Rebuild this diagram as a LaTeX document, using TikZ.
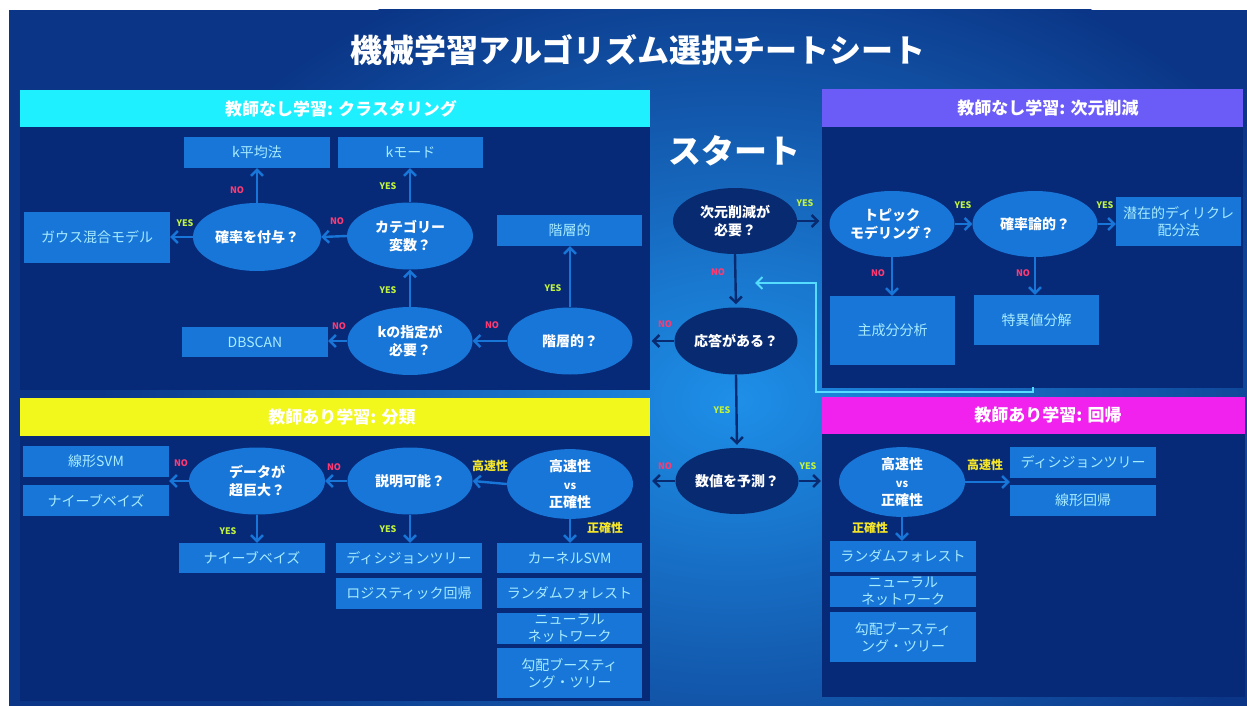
\documentclass[tikz,border=0pt]{standalone}
\usepackage{fontspec}
\setmainfont{Noto Sans CJK JP}
\usetikzlibrary{shapes.geometric,arrows.meta}
\definecolor{bge}{HTML}{0B3586}
\definecolor{bgc}{HTML}{1E8FE8}
\definecolor{panelbody}{HTML}{072A78}
\definecolor{boxfill}{HTML}{1776D8}
\definecolor{boxtext}{HTML}{A8ECFF}
\definecolor{navyq}{HTML}{082A70}
\definecolor{cyanh}{HTML}{1EF0FF}
\definecolor{yellowh}{HTML}{F2F71C}
\definecolor{purpleh}{HTML}{6B5CF8}
\definecolor{magentah}{HTML}{F122EE}
\definecolor{yescol}{HTML}{BFF23E}
\definecolor{nocol}{HTML}{FF3A72}
\definecolor{spcol}{HTML}{F5E629}
\definecolor{fbline}{HTML}{55DCFF}
\begin{document}
\begin{tikzpicture}[x=1pt,y=-1pt,
  box/.style={rectangle, fill=boxfill, text=boxtext, inner sep=0pt, align=center, font=\fontsize{14}{17}\selectfont},
  q/.style={ellipse, fill=boxfill, text=white, inner sep=0pt, align=center, font=\bfseries\fontsize{14}{18}\selectfont},
  cq/.style={q, fill=navyq},
  arr/.style={-{Straight Barb[length=6pt,width=12pt]}, line width=2.4pt, draw=boxfill},
  carr/.style={arr, draw=navyq},
  yes/.style={text=yescol, inner sep=0pt, font=\bfseries\fontsize{9}{9}\selectfont},
  no/.style={text=nocol, inner sep=0pt, font=\bfseries\fontsize{9}{9}\selectfont},
  sp/.style={text=spcol, inner sep=0pt, font=\bfseries\fontsize{12}{12}\selectfont},
  hdr/.style={text=white, inner sep=0pt, font=\bfseries\fontsize{17}{17}\selectfont}
]
\useasboundingbox (0,0) rectangle (1247,706);
\fill[white] (0,0) rectangle (1247,706);
\fill[bge] (9,10) rectangle (1247,706);
\begin{scope}
\clip (9,10) rectangle (1247,706);
\shade[inner color=bgc, outer color=bge] (735,400) ellipse [x radius=640, y radius=470];
\end{scope}

% title
\node[text=white, font=\bfseries\fontsize{32}{32}\selectfont] (title) at (638,50) {機械学習アルゴリズム選択チートシート};
\node[text=white, font=\bfseries\fontsize{33}{33}\selectfont] (start) at (734,151) {スタート};

% panels
\fill[panelbody] (20,127) rectangle (650,390);
\fill[cyanh] (20,90) rectangle (650,127);
\node[hdr] (hclu) at (341,108.5) {教師なし学習: クラスタリング};

\fill[panelbody] (822,127) rectangle (1243,388);
\fill[purpleh] (822,89) rectangle (1243,127);
\node[hdr] (hdim) at (1048,108) {教師なし学習: 次元削減};

\fill[panelbody] (20,436) rectangle (650,701);
\fill[yellowh] (20,398) rectangle (650,436);
\node[hdr] (hcls) at (342,417) {教師あり学習: 分類};

\fill[panelbody] (822,434) rectangle (1245,697);
\fill[magentah] (822,397) rectangle (1245,434);
\node[hdr] (hreg) at (1048,415.5) {教師あり学習: 回帰};

% clustering
\node[box, minimum width=146, minimum height=31] (kmean) at (257,152.5) {k平均法};
\node[box, minimum width=145, minimum height=31] (kmode) at (410.5,152.5) {kモード};
\node[box, minimum width=146, minimum height=51] (gmm) at (97,237.5) {ガウス混合モデル};
\node[q, minimum width=128, minimum height=68] (prob) at (257,237) {確率を付与？};
\node[q, minimum width=126, minimum height=67] (cat) at (410,236) {カテゴリー\\変数？};
\node[box, minimum width=145, minimum height=31] (hierbox) at (569.5,230.5) {階層的};
\node[q, minimum width=125, minimum height=67] (hier) at (570,341) {階層的？};
\node[q, minimum width=125, minimum height=68] (kspec) at (410,341) {kの指定が\\必要？};
\node[box, minimum width=146, minimum height=30] (dbscan) at (255,342) {DBSCAN};

\draw[arr] (prob.north) -- (kmean.south);
\draw[arr] (prob.west) -- (prob.west -| gmm.east);
\draw[arr] (cat.west) -- (prob.east);
\draw[arr] (cat.north) -- (cat.north |- kmode.south);
\draw[arr] (kspec.north) -- (cat.south);
\draw[arr] (kspec.west) -- (kspec.west -| dbscan.east);
\draw[arr] (hier.west) -- (kspec.east);
\draw[arr] (hier.north) -- (hier.north |- hierbox.south);
\node[no] (l1) at (237,190) {NO};
\node[yes] (l2) at (185,223) {YES};
\node[no] (l3) at (337,221) {NO};
\node[yes] (l4) at (388,186) {YES};
\node[yes] (l5) at (388,290) {YES};
\node[no] (l6) at (339,326) {NO};
\node[no] (l7) at (492,325) {NO};
\node[yes] (l8) at (553,288) {YES};

% dimension reduction
\node[q, minimum width=125, minimum height=66] (topic) at (892,224) {トピック\\モデリング？};
\node[q, minimum width=125, minimum height=66] (probq) at (1035,224) {確率論的？};
\node[box, minimum width=125, minimum height=49] (lda) at (1178.5,221.5) {潜在的ディリクレ\\配分法};
\node[box, minimum width=125, minimum height=69] (pca) at (892.5,330.5) {主成分分析};
\node[box, minimum width=125, minimum height=50] (svd) at (1036.5,320) {特異値分解};
\draw[arr] (topic.east) -- (probq.west);
\draw[arr] (probq.east) -- (probq.east -| lda.west);
\draw[arr] (topic.south) -- (topic.south |- pca.north);
\draw[arr] (probq.south) -- (probq.south |- svd.north);
\node[yes] (l9) at (963,205) {YES};
\node[yes] (l10) at (1105,205) {YES};
\node[no] (l11) at (878,273) {NO};
\node[no] (l12) at (1023,273) {NO};

% center flow
\node[cq, minimum width=124, minimum height=66] (dimq) at (735,221) {次元削減が\\必要？};
\node[cq, minimum width=123, minimum height=67] (respq) at (736,341) {応答がある？};
\node[cq, minimum width=123, minimum height=66] (numq) at (737,481) {数値を予測？};

% classification
\node[box, minimum width=146, minimum height=31] (linsvm) at (96,461.5) {線形SVM};
\node[box, minimum width=146, minimum height=31] (nb1) at (96,500.5) {ナイーブベイズ};
\node[q, minimum width=136, minimum height=67] (bigq) at (257,481) {データが\\超巨大？};
\node[box, minimum width=146, minimum height=30] (nb2) at (252,558) {ナイーブベイズ};
\node[q, minimum width=125, minimum height=67] (explq) at (410,481) {説明可能？};
\node[box, minimum width=146, minimum height=30] (dtree) at (409,558) {ディシジョンツリー};
\node[box, minimum width=146, minimum height=31] (logreg) at (409,593.5) {ロジスティック回帰};
\node[q, minimum width=126, minimum height=68] (fvsa) at (570,484) {高速性\\{\fontsize{11}{18}\selectfont vs}\\正確性};
\node[box, minimum width=145, minimum height=30] (ksvm) at (569.5,558) {カーネルSVM};
\node[box, minimum width=145, minimum height=30] (rf) at (569.5,593) {ランダムフォレスト};
\node[box, minimum width=145, minimum height=31] (nn) at (569.5,628.5) {ニューラル\\ネットワーク};
\node[box, minimum width=145, minimum height=50] (gbt) at (569.5,673) {勾配ブースティ\\ング・ツリー};
\draw[arr] (fvsa.west) -- (explq.east);
\draw[arr] (fvsa.south) -- (fvsa.south |- ksvm.north);
\draw[arr] (explq.west) -- (bigq.east);
\draw[arr] (explq.south) -- (explq.south |- dtree.north);
\draw[arr] (bigq.south) -- (bigq.south |- nb2.north);
\draw[arr] (bigq.west) -- (bigq.west -| linsvm.east);
\node[sp] (l13) at (490,466) {高速性};
\node[sp] (l14) at (605,528) {正確性};
\node[no] (l15) at (334,467) {NO};
\node[yes] (l16) at (388,529) {YES};
\node[yes] (l17) at (228,531) {YES};
\node[no] (l18) at (181,463) {NO};

% regression
\node[q, minimum width=126, minimum height=67] (rfvsa) at (902,482) {高速性\\{\fontsize{11}{18}\selectfont vs}\\正確性};
\node[box, minimum width=146, minimum height=31] (rdtree) at (1083,462.5) {ディシジョンツリー};
\node[box, minimum width=146, minimum height=31] (linreg) at (1083,500.5) {線形回帰};
\node[box, minimum width=146, minimum height=31] (rrf) at (903,556.5) {ランダムフォレスト};
\node[box, minimum width=146, minimum height=31] (rnn) at (903,591.5) {ニューラル\\ネットワーク};
\node[box, minimum width=146, minimum height=50] (rgbt) at (903,637) {勾配ブースティ\\ング・ツリー};
\draw[arr] (rfvsa.east) -- (rfvsa.east -| rdtree.west);
\draw[arr] (rfvsa.south) -- (rfvsa.south |- rrf.north);
\node[sp] (l19) at (985,465) {高速性};
\node[sp] (l20) at (870,528) {正確性};

% center connectors
\draw[carr, shorten >=10pt] (dimq.east) -- (dimq.east -| topic.west);
\draw[carr, shorten >=3pt] (dimq.south) -- (respq.north);
\draw[carr, shorten >=19pt] (respq.west) -- (hier.east);
\draw[carr, shorten >=3pt] (respq.south) -- (numq.north);
\draw[carr, shorten >=19pt] (numq.west) -- (numq.west -| fvsa.east);
\draw[carr, shorten >=18pt] (numq.east) -- (numq.east -| rfvsa.west);
\node[yes] (l21) at (805,203) {YES};
\node[no] (l22) at (718,272) {NO};
\node[no] (l23) at (665,324) {NO};
\node[yes] (l24) at (722,410) {YES};
\node[no] (l25) at (665,466) {NO};
\node[yes] (l26) at (808,466) {YES};

% feedback line
\coordinate (fbstart) at (1033,387);
\coordinate (fbend) at (755,283);
\draw[fbline, line width=2pt, -{Straight Barb[length=6pt,width=12pt]}, line join=miter]
  (fbstart) -- (fbstart |- 0,392) -- (816,392) -- (816,283) -- (fbend);
\end{tikzpicture}
\end{document}
